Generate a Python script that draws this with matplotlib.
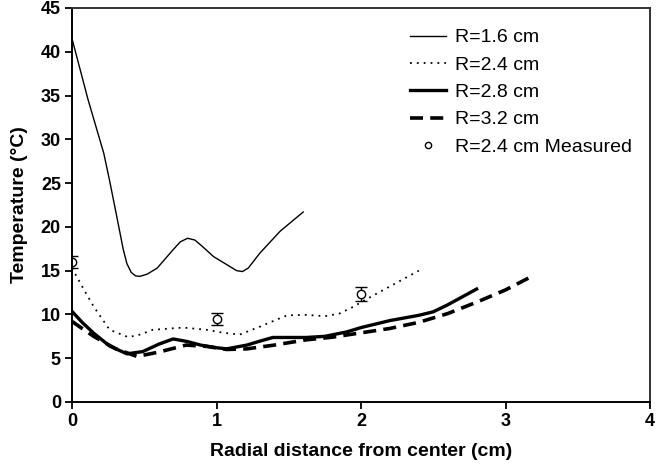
import numpy as np
import matplotlib
matplotlib.use("Agg")
from matplotlib import pyplot as plt
from matplotlib.lines import Line2D

plt.rcParams['font.family'] = ['Liberation Sans', 'DejaVu Sans']

# R=1.6 cm
x16 = [0, 0.11, 0.22, 0.26, 0.3, 0.355, 0.38, 0.41, 0.44, 0.47, 0.52, 0.59, 0.7, 0.75, 0.8, 0.85, 0.9, 0.98, 1.08, 1.14, 1.18, 1.22, 1.3, 1.44, 1.52, 1.6]
y16 = [41.5, 34.6, 28.4, 25.3, 22.0, 17.4, 15.8, 14.8, 14.4, 14.35, 14.6, 15.3, 17.4, 18.3, 18.7, 18.5, 17.8, 16.6, 15.6, 15.0, 14.9, 15.3, 17.0, 19.5, 20.6, 21.7]
# R=2.4 cm
x24 = [0, 0.07, 0.15, 0.26, 0.39, 0.47, 0.56, 0.77, 0.93, 1.05, 1.16, 1.3, 1.4, 1.49, 1.62, 1.75, 1.85, 1.95, 2.0, 2.1, 2.2, 2.3, 2.4]
y24 = [15.3, 13.2, 10.9, 8.25, 7.4, 7.7, 8.25, 8.5, 8.25, 7.9, 7.7, 8.6, 9.3, 9.9, 9.95, 9.8, 10.1, 10.9, 11.4, 12.3, 13.2, 14.1, 15.0]
# R=2.8 cm
x28 = [0, 0.07, 0.15, 0.26, 0.38, 0.49, 0.6, 0.7, 0.8, 0.89, 1.0, 1.07, 1.21, 1.3, 1.39, 1.62, 1.75, 1.9, 2.0, 2.1, 2.2, 2.3, 2.4, 2.5, 2.6, 2.7, 2.8]
y28 = [10.35, 9.1, 7.86, 6.4, 5.5, 5.76, 6.6, 7.2, 6.9, 6.5, 6.2, 6.07, 6.5, 6.95, 7.37, 7.37, 7.5, 8.0, 8.5, 8.9, 9.3, 9.6, 9.9, 10.3, 11.1, 12.0, 12.9]
# R=3.2 cm
x32 = [0, 0.07, 0.15, 0.3, 0.45, 0.6, 0.79, 0.93, 1.07, 1.21, 1.4, 1.62, 1.8, 2.0, 2.2, 2.4, 2.6, 2.8, 3.0, 3.2]
y32 = [9.2, 8.4, 7.5, 6.1, 5.2, 5.7, 6.5, 6.35, 6.0, 6.07, 6.5, 7.1, 7.4, 7.9, 8.4, 9.1, 10.1, 11.4, 12.8, 14.5]
# measured R=2.4 cm
xm = [0, 1, 2]
ym = [16.0, 9.5, 12.3]
em = [0.7, 0.7, 0.8]

fig = plt.figure(figsize=(6.56, 4.66), dpi=100)
ax = fig.add_axes([72/656, 64/466, 578/656, 394/466])

ax.plot(x16, y16, color='black', lw=1.0, label='R=1.6 cm')
ax.plot(x24, y24, color='black', lw=1.3, linestyle=(0, (1, 2.8)), label='R=2.4 cm')
ax.plot(x28, y28, color='black', lw=2.4, label='R=2.8 cm')
ax.plot(x32, y32, color='black', lw=2.6, linestyle=(0, (3.6, 2.0)), label='R=3.2 cm')
ax.errorbar(xm, ym, yerr=em, fmt='o', mfc='white', mec='black', ms=6, mew=1.0,
            ecolor='black', elinewidth=1.0, capsize=4, capthick=1.0)

ax.set_xlim(0, 4)
ax.set_ylim(0, 45)
ax.set_xticks([0, 1, 2, 3, 4])
ax.set_yticks(range(0, 50, 5))
ax.tick_params(direction='out', length=5, width=1.3, labelsize=13, pad=3)
for lab in ax.get_xticklabels() + ax.get_yticklabels():
    lab.set_fontweight('bold')
for s in ['left', 'bottom']:
    ax.spines[s].set_linewidth(1.4)
for s in ['top', 'right']:
    ax.spines[s].set_linewidth(1.4)
    ax.spines[s].set_color('#333333')

ax.set_xlabel('Radial distance from center (cm)', fontsize=14, fontweight='bold', labelpad=9)
ax.set_ylabel('Temperature (°C)', fontsize=14, fontweight='bold', labelpad=9)

h, l = ax.get_legend_handles_labels()
h.append(Line2D([], [], marker='o', ls='none', mfc='white', mec='black', ms=4.5, mew=1.0))
l.append('R=2.4 cm Measured')
ax.legend(h, l, loc='upper right', bbox_to_anchor=(0.982, 0.967), frameon=False, fontsize=14,
          handlelength=1.85, handletextpad=0.45, labelspacing=0.5, borderaxespad=0)

fig.savefig('out.png', dpi=100)
